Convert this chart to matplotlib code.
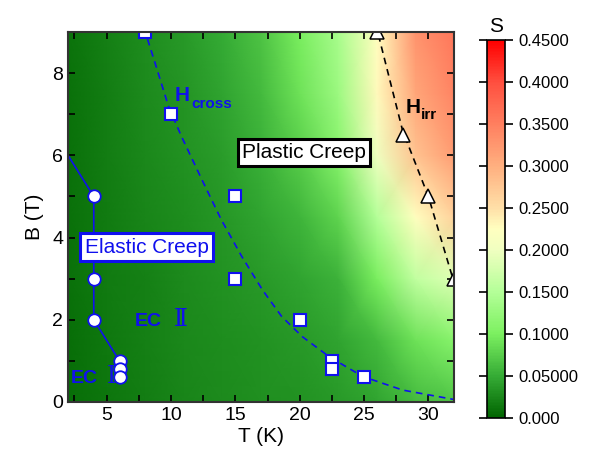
import numpy as np
import matplotlib
matplotlib.use('Agg')
from matplotlib import pyplot as plt
from matplotlib.colors import LinearSegmentedColormap, Normalize

plt.rcParams['font.family'] = ['Liberation Sans', 'DejaVu Sans']

# Поле S(T, B) (строки - B, столбцы - T)
t_grid = [2, 5, 8, 11, 14, 17, 20, 23, 26, 29, 32]
b_grid = [0, 1.5, 3, 4.5, 6, 7.5, 9]
s_grid = [
    [0.008, 0.014, 0.019, 0.024, 0.027, 0.030, 0.033, 0.038, 0.045, 0.060, 0.070],
    [0.008, 0.015, 0.020, 0.025, 0.029, 0.033, 0.038, 0.045, 0.060, 0.090, 0.110],
    [0.009, 0.016, 0.021, 0.027, 0.032, 0.038, 0.045, 0.055, 0.100, 0.160, 0.185],
    [0.009, 0.017, 0.023, 0.029, 0.036, 0.045, 0.058, 0.080, 0.150, 0.225, 0.265],
    [0.010, 0.018, 0.025, 0.032, 0.040, 0.053, 0.075, 0.110, 0.200, 0.280, 0.320],
    [0.010, 0.019, 0.027, 0.034, 0.045, 0.060, 0.090, 0.130, 0.230, 0.310, 0.345],
    [0.011, 0.020, 0.029, 0.037, 0.050, 0.068, 0.100, 0.140, 0.225, 0.330, 0.360],
]

# Elastic creep (кружки)
ec_t = [4, 4, 4, 6, 6, 6]
ec_b = [5, 3, 2, 1.0, 0.8, 0.6]
ec_line_t = [2, 4, 4, 6]
ec_line_b = [6, 5, 2, 1.0]

# H_cross (квадраты) и линия
hc_t = [8, 10, 15, 15, 20, 22.5, 22.5, 25]
hc_b = [9, 7, 5, 3, 2, 1.0, 0.8, 0.6]
hc_fit_t = [7.9, 8.75, 9.8, 10.8, 12.4, 13.9, 15.5, 17.1, 18.6, 20.2, 22.3, 24.9, 28.0, 32.0]
hc_fit_b = [9.1, 8.26, 7.2, 6.47, 5.41, 4.44, 3.54, 2.73, 2.08, 1.59, 1.1, 0.62, 0.29, 0.06]

# H_irr (треугольники)
hirr_t = [26, 28, 30, 32]
hirr_b = [9, 6.5, 5, 3]
hirr_fit_t = [25.9, 28.0, 30.0, 32.0]
hirr_fit_b = [9.2, 6.6, 5.0, 2.9]

cbar_ticks = [0, 0.05, 0.1, 0.15, 0.2, 0.25, 0.3, 0.35, 0.4, 0.45]
cbar_labels = ['0.000', '0.05000', '0.1000', '0.1500', '0.2000', '0.2500',
               '0.3000', '0.3500', '0.4000', '0.4500']

blue = '#1010ee'
cmap = LinearSegmentedColormap.from_list('gyr', [
    (0.0, '#006400'), (0.05 / 0.45, '#36ac36'), (0.1 / 0.45, '#7cf060'),
    (0.15 / 0.45, '#b4ff98'), (0.2 / 0.45, '#f0ffc0'), (0.225 / 0.45, '#ffffc0'),
    (0.25 / 0.45, '#ffe0a8'), (0.3 / 0.45, '#ffb080'), (0.35 / 0.45, '#ff8060'),
    (0.4 / 0.45, '#ff5040'), (1.0, '#ff0000')])
norm = Normalize(0, 0.45)

fig = plt.figure(figsize=(5.89, 4.58), dpi=100)
ax = fig.add_axes([0.1155, 0.1223, 0.6555, 0.8077])
cax = fig.add_axes([0.8268, 0.0873, 0.0306, 0.8243])

TT, BB = np.meshgrid(t_grid, b_grid)
mesh = ax.pcolormesh(TT, BB, np.array(s_grid), cmap=cmap, norm=norm, shading='gouraud')

ax.plot(ec_line_t, ec_line_b, color=blue, lw=1.2)
ax.plot(ec_t, ec_b, 'o', ms=9, mfc='white', mec=blue, mew=1.3)

ax.plot(hc_fit_t, hc_fit_b, color=blue, lw=1.2, linestyle=(0, (4, 3)))
ax.plot(hc_t, hc_b, 's', ms=8, mfc='white', mec=blue, mew=1.5)

ax.plot(hirr_fit_t, hirr_fit_b, color='black', lw=1.2, linestyle=(0, (4, 3)))
ax.plot(hirr_t, hirr_b, '^', ms=10, mfc='white', mec='black', mew=1.1)

ax.text(10.3, 7.32, 'H', color=blue, fontsize=15, fontweight='bold')
ax.text(11.6, 7.15, 'cross', color=blue, fontsize=11, fontweight='bold')
ax.text(28.2, 7.03, 'H', color='black', fontsize=15, fontweight='bold')
ax.text(29.4, 6.88, 'irr', color='black', fontsize=11, fontweight='bold')

ax.text(20.35, 6.07, 'Plastic Creep', fontsize=15, ha='center', va='center',
        bbox=dict(boxstyle='square,pad=0.2', fc='white', ec='black', lw=2.2))
ax.text(8.1, 3.77, 'Elastic Creep', fontsize=15, color=blue, ha='center', va='center',
        bbox=dict(boxstyle='square,pad=0.2', fc='white', ec=blue, lw=2.2))

ax.text(7.2, 1.84, 'EC', color=blue, fontsize=14, fontweight='bold')
ax.text(10.25, 1.84, 'Ⅱ', color=blue, fontsize=17,
        family=['Liberation Serif', 'DejaVu Serif', 'DejaVu Sans'])
ax.text(2.2, 0.47, 'EC', color=blue, fontsize=14, fontweight='bold')
ax.text(5.0, 0.47, 'Ⅰ', color=blue, fontsize=17,
        family=['Liberation Serif', 'DejaVu Serif', 'DejaVu Sans'])

ax.set_xlim(2, 32)
ax.set_ylim(0, 9)
ax.set_xticks(np.arange(2.5, 32, 2.5))
ax.set_xticklabels(['' if v % 5 else str(int(v)) for v in np.arange(2.5, 32, 2.5)])
ax.set_yticks(range(0, 10))
ax.set_yticklabels([str(v) if v % 2 == 0 else '' for v in range(0, 10)])
ax.tick_params(direction='in', top=True, right=True, length=5, width=1.2,
               labelsize=14, colors='black')
for sp in ax.spines.values():
    sp.set_linewidth(1.5)
    sp.set_color('#333333')
ax.set_xlabel('T (K)', fontsize=15, labelpad=2)
ax.set_ylabel('B (T)', fontsize=15, labelpad=6)

cb = fig.colorbar(mesh, cax=cax, ticks=cbar_ticks)
cb.ax.set_yticklabels(cbar_labels)
cb.ax.tick_params(left=True, right=True, direction='out', length=6, width=1.2, labelsize=12)
cb.outline.set_linewidth(1.2)
cax.set_title('S', fontsize=15, pad=6)

fig.savefig('out.png', dpi=100)
